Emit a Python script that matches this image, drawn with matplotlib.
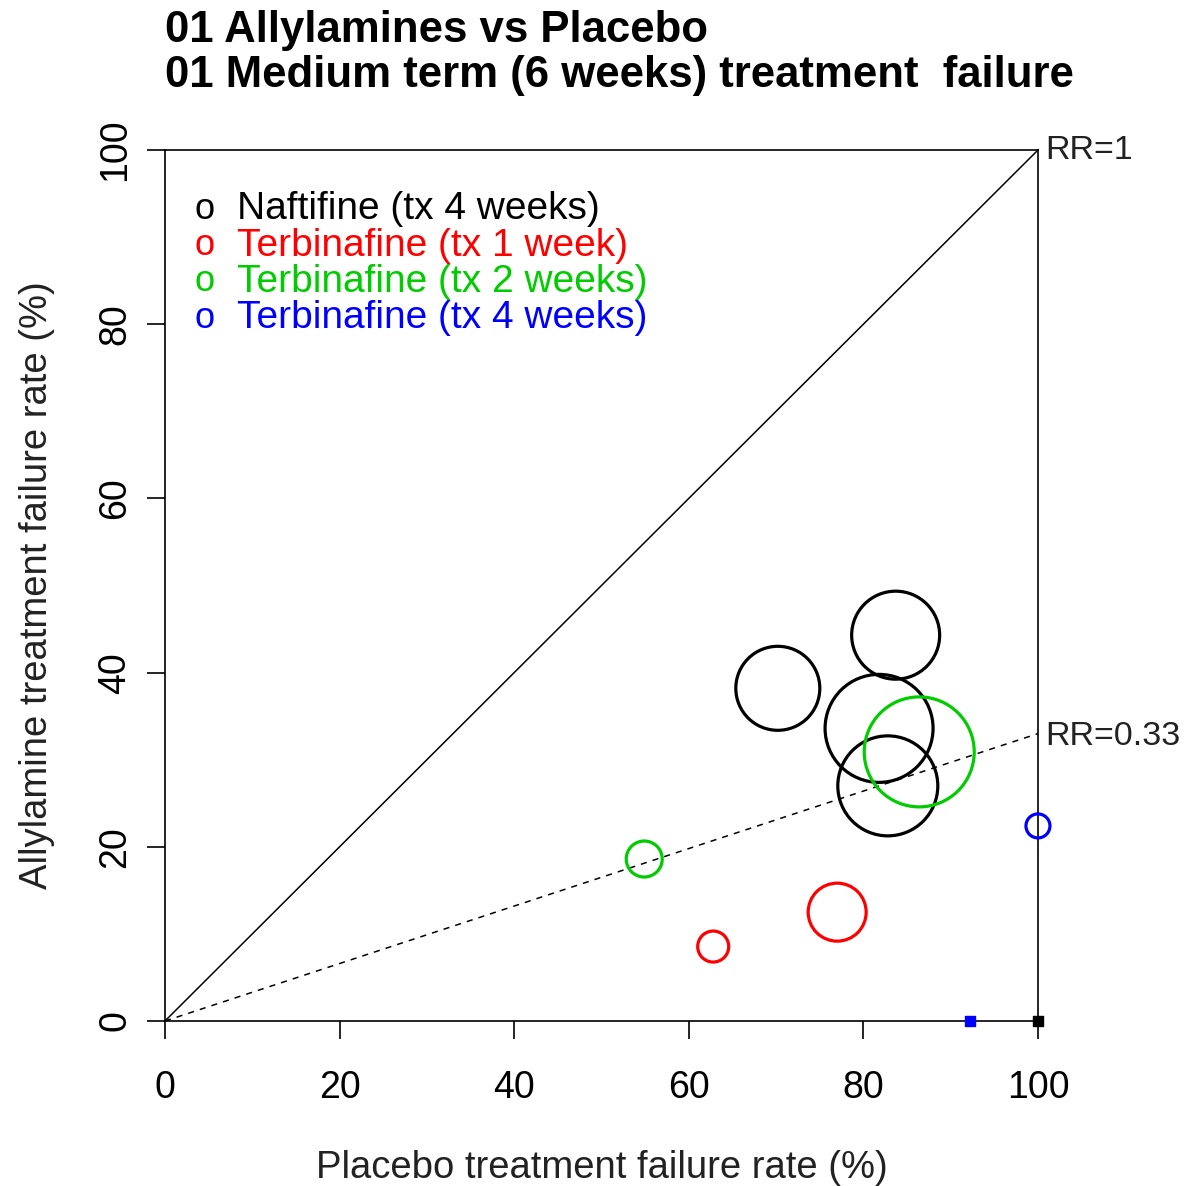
import numpy as np
import matplotlib
matplotlib.use('Agg')
import matplotlib.pyplot as plt

plt.rcParams['font.family'] = ['Liberation Sans', 'DejaVu Sans']

# Study data: placebo failure rate (%), treatment failure rate (%), circle weight
groups = ['Naftifine (tx 4 weeks)', 'Terbinafine (tx 1 week)',
          'Terbinafine (tx 2 weeks)', 'Terbinafine (tx 4 weeks)']
group_colors = ['black', '#FF0000', '#00CC00', '#0000FF']

placebo_rate = [70.2, 83.7, 81.8, 82.8, 77.0, 62.8, 86.4, 54.9, 100.0]
treat_rate = [38.2, 44.3, 33.6, 27.0, 12.5, 8.55, 30.9, 18.6, 22.4]
study_weight = [42, 44, 54, 50, 29, 15.5, 55, 18, 12]   # circle radius, px
study_group = [0, 0, 0, 0, 1, 1, 2, 2, 3]

# studies with zero events (drawn as small squares)
zero_placebo = [92.2, 100.0]
zero_treat = [0.0, 0.0]
zero_group = [3, 0]

rr_pooled = 0.33

fig = plt.figure(figsize=(11.91, 11.86), dpi=100)
ax = fig.add_axes([0.1385, 0.1391, 0.733, 0.7344])

# reference lines
ax.plot([0, 100], [0, 100], color='black', lw=1.1, clip_on=False)
ax.plot([0, 100], [0, 100 * rr_pooled], color='black', lw=1.1,
        linestyle=(0, (4, 4)), clip_on=False)

# circles: diameter in points from radius in px
sizes = [(2 * r * 72 / 100) ** 2 for r in study_weight]
ax.scatter(placebo_rate, treat_rate, s=sizes, facecolors='none',
           edgecolors=[group_colors[g] for g in study_group],
           linewidths=2.3, clip_on=False, zorder=3)
ax.scatter(zero_placebo, zero_treat, s=45, marker='s',
           c=[group_colors[g] for g in zero_group], clip_on=False, zorder=4)

ax.set_xlim(0, 100)
ax.set_ylim(0, 100)
ax.set_xticks(range(0, 101, 20))
ax.set_yticks(range(0, 101, 20))
ax.set_yticklabels([str(v) for v in range(0, 101, 20)], rotation=90, va='center')
ax.tick_params(length=13, width=1.2, labelsize=27, direction='out')
ax.tick_params(axis='x', pad=22)
ax.tick_params(axis='y', pad=10)
for sp in ax.spines.values():
    sp.set_linewidth(1.2)

ax.set_xlabel('Placebo treatment failure rate (%)', fontsize=27.5, color='#222222', labelpad=32)
ax.set_ylabel('Allylamine treatment failure rate (%)', fontsize=27.5, color='#222222', labelpad=30)

ax.text(100.8, 100, 'RR=1', fontsize=24.5, va='center', ha='left', color='#222222')
ax.text(100.8, 100 * rr_pooled - 0.3, 'RR=%.2f' % rr_pooled, fontsize=24.5,
        va='center', ha='left', color='#222222')

# legend in R style
for i, (name, col) in enumerate(zip(groups, group_colors)):
    yy = 93.2 - i * 4.17
    ax.text(4.5, yy, 'o', color=col, fontsize=26, ha='center', va='center')
    ax.text(8.2, yy, name, color=col, fontsize=28, ha='left', va='center')

fig.text(0.1385, 0.974, '01 Allylamines vs Placebo', fontsize=31.5,
         fontweight='bold', ha='left', va='center')
fig.text(0.1385, 0.936, '01 Medium term (6 weeks) treatment  failure', fontsize=31.5,
         fontweight='bold', ha='left', va='center')

fig.savefig('out.png', dpi=100)
